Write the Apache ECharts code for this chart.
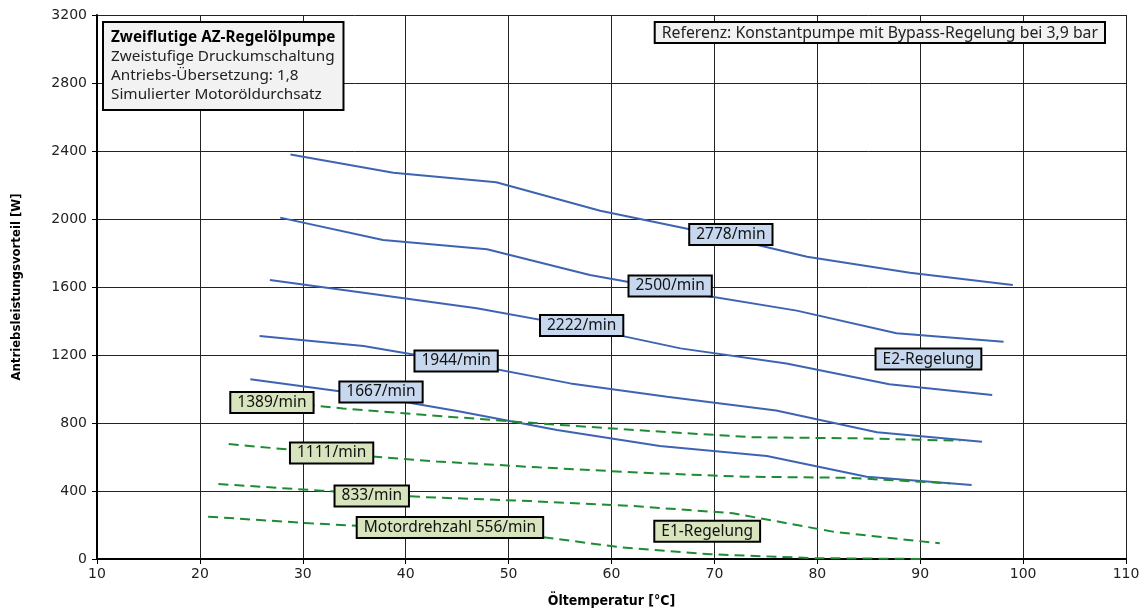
<!DOCTYPE html>
<html>
<head>
<meta charset="utf-8">
<script src="https://cdn.jsdelivr.net/npm/echarts@6/dist/echarts.min.js"></script>
<style>
  html, body { margin: 0; padding: 0; background: #fff; }
  #chart { width: 1146px; height: 613px; }
</style>
</head>
<body>
<div id="chart"></div>
<script>
// Axis ticks
const xTicks = [10, 20, 30, 40, 50, 60, 70, 80, 90, 100, 110];
const yTicks = [0, 400, 800, 1200, 1600, 2000, 2400, 2800, 3200];

// E2-Regelung: Antriebsleistungsvorteil [W] über Öltemperatur [°C]
const e2_2778 = [[28.8, 2380], [38.8, 2272], [48.8, 2216], [58.9, 2049], [69, 1922], [79, 1778], [89, 1684], [99, 1612]];
const e2_2500 = [[27.8, 2008], [37.8, 1876], [47.9, 1822], [57.9, 1671], [68, 1560], [78, 1461], [87.7, 1328], [98.1, 1278]];
const e2_2222 = [[26.8, 1641], [36.8, 1559], [46.9, 1475], [57, 1364], [66.7, 1239], [77, 1150], [87, 1028], [97, 965]];
const e2_1944 = [[25.8, 1312], [35.9, 1253], [46, 1148], [56, 1033], [65.4, 955], [76, 873], [85.8, 745], [96, 690]];
const e2_1667 = [[24.9, 1057], [35, 975], [45, 870], [54.7, 759], [64.7, 665], [75.1, 606], [84.8, 484], [95, 435]];

// E1-Regelung
const e1_1389 = [[24, 945], [33.9, 886], [44, 838], [54, 793], [63.7, 753], [73.8, 716], [83.8, 710], [93.9, 696]];
const e1_1111 = [[22.8, 676], [33, 620], [43, 574], [52.9, 539], [62.8, 508], [72.8, 484], [82.9, 478], [92.9, 445]];
const e1_833  = [[21.8, 441], [31.8, 402], [41.8, 364], [52.1, 341], [62, 312], [71.8, 269], [81.5, 161], [91.9, 92]];
const e1_556  = [[20.8, 249], [30.7, 210], [41, 177], [51, 147], [61, 68], [69.6, 28], [79.6, 5], [90.5, 0]];

// Curve annotations: [x, y, text]
const e2Labels = [
  [71.6, 1909, '2778/min'],
  [65.7, 1606, '2500/min'],
  [57.1, 1374, '2222/min'],
  [44.9, 1165, '1944/min'],
  [37.6, 982, '1667/min'],
  [90.8, 1176, 'E2-Regelung']
];
const e1Labels = [
  [27.0, 921, '1389/min'],
  [32.8, 624, '1111/min'],
  [36.7, 371, '833/min'],
  [44.3, 185, 'Motordrehzahl 556/min'],
  [69.3, 163, 'E1-Regelung']
];

const infoTitle = 'Zweiflutige AZ-Regelölpumpe';
const infoLines = ['Zweistufige Druckumschaltung', 'Antriebs-Übersetzung: 1,8', 'Simulierter Motoröldurchsatz'];
const refText = 'Referenz: Konstantpumpe mit Bypass-Regelung bei 3,9 bar';

const BLUE = '#3d64b2';
const GREEN = '#1f8b34';
const FONT = 'Noto Sans';

function e2Line(data) {
  return { type: 'line', data: data, symbol: 'none', smooth: false, z: 3,
           lineStyle: { color: BLUE, width: 2 } };
}
function e1Line(data) {
  return { type: 'line', data: data, symbol: 'none', smooth: false, z: 3,
           lineStyle: { color: GREEN, width: 2, type: [10, 6] } };
}
function labelSeries(items, fill) {
  return {
    type: 'scatter', z: 10, symbolSize: 0, itemStyle: { color: '#000', opacity: 1 },
    silent: true,
    emphasis: { disabled: true },
    data: items.map(d => ({ value: [d[0], d[1]], name: d[2] })),
    label: {
      show: true, position: 'inside', formatter: p => p.name, opacity: 1,
      fontFamily: FONT, fontSize: 15.5, color: '#111',
      backgroundColor: fill, borderColor: '#000', borderWidth: 2,
      padding: [2, 6, 1, 6]
    }
  };
}

const chart = echarts.init(document.getElementById('chart'), null, { renderer: 'canvas' });
chart.setOption({
  animation: false,
  backgroundColor: '#fff',
  grid: { left: 97, right: 20, top: 15, bottom: 54, containLabel: false },
  xAxis: {
    type: 'value', min: xTicks[0], max: xTicks[xTicks.length - 1], interval: 10,
    name: 'Öltemperatur [°C]', nameLocation: 'middle', nameGap: 35,
    nameTextStyle: { fontFamily: 'DejaVu Sans Condensed', fontWeight: 'bold', fontSize: 14, color: '#000' },
    axisLine: { show: true, lineStyle: { color: '#000', width: 2 } },
    axisTick: { show: true, length: 5, lineStyle: { color: '#000' } },
    axisLabel: { fontFamily: 'DejaVu Sans', fontSize: 14, color: '#222', margin: 8,
                 formatter: v => String(v) },
    splitLine: { show: true, lineStyle: { color: '#222', width: 1 } }
  },
  yAxis: {
    type: 'value', min: yTicks[0], max: yTicks[yTicks.length - 1], interval: 400,
    name: 'Antriebsleistungsvorteil [W]', nameLocation: 'middle', nameGap: 74,
    nameTextStyle: { fontFamily: 'DejaVu Sans Condensed', fontWeight: 'bold', fontSize: 13, color: '#000' },
    axisLine: { show: true, lineStyle: { color: '#000', width: 2 } },
    axisTick: { show: true, length: 5, lineStyle: { color: '#000' } },
    axisLabel: { fontFamily: 'DejaVu Sans', fontSize: 14, color: '#222', margin: 10,
                 formatter: v => String(v) },
    splitLine: { show: true, lineStyle: { color: '#222', width: 1 } }
  },
  series: [
    e2Line(e2_2778), e2Line(e2_2500), e2Line(e2_2222), e2Line(e2_1944), e2Line(e2_1667),
    e1Line(e1_1389), e1Line(e1_1111), e1Line(e1_833), e1Line(e1_556),
    labelSeries(e2Labels, '#c6d7ee'),
    labelSeries(e1Labels, '#d8e4bd')
  ],
  graphic: [
    {
      type: 'text', left: 102, top: 21, z: 20,
      style: {
        text: '{b|' + infoTitle + '}\n' + infoLines.join('\n'),
        rich: { b: { fontFamily: FONT, fontWeight: 'bold', fontSize: 15.3, lineHeight: 19, fill: '#000' } },
        fontFamily: FONT, fontSize: 15.3, lineHeight: 19, fill: '#222',
        backgroundColor: '#f2f2f2', borderColor: '#000', borderWidth: 2,
        padding: [5, 7, 5, 7]
      }
    },
    {
      type: 'text', right: 40, top: 21, z: 20,
      style: {
        text: refText, fontFamily: FONT, fontSize: 15.8, fill: '#222',
        backgroundColor: '#f2f2f2', borderColor: '#000', borderWidth: 2,
        padding: [2, 6, 1, 6]
      }
    }
  ]
});
</script>
</body>
</html>
